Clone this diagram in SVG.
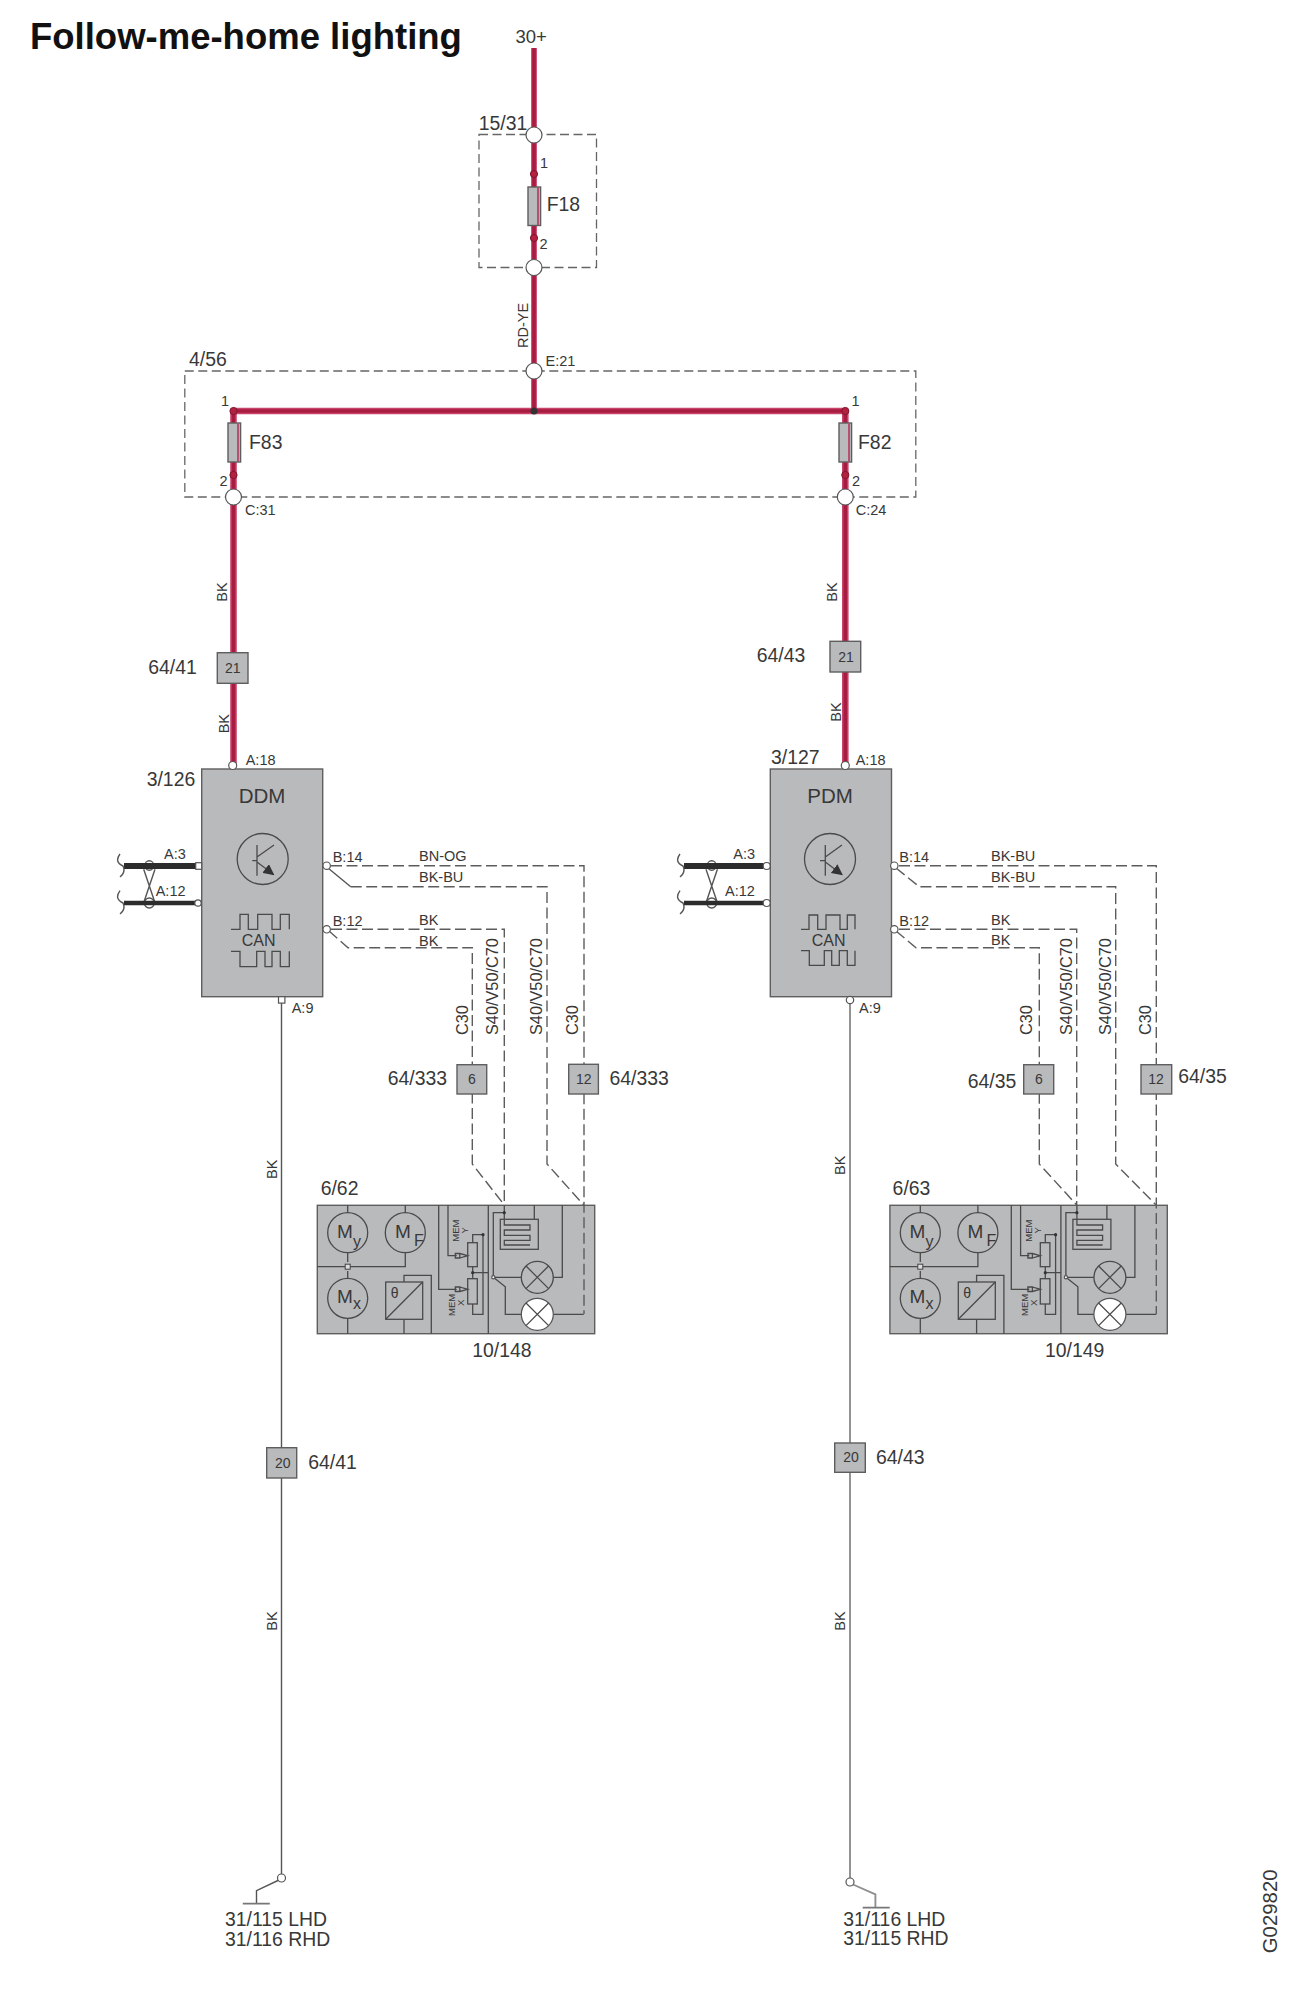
<svg xmlns="http://www.w3.org/2000/svg" width="1315" height="2000" viewBox="0 0 1315 2000">
<style>
text{font-family:"Liberation Sans",Arial,sans-serif;fill:#383838;font-size:19.4px}
.sm{font-size:14.5px}
.num{font-size:14px;text-anchor:middle}
.title{font-size:36.5px;font-weight:bold;fill:#111}
.tiny{font-size:9.5px}
.rot{font-size:16.3px}
.mm{font-size:19px}
.sb{font-size:16px}
.wo{fill:none;stroke:#c9446a;stroke-width:6.6}
.wi{fill:none;stroke:#a91c42;stroke-width:3.6}
.dash{fill:none;stroke:#5c5c5c;stroke-width:1.4;stroke-dasharray:11 4.5}
.thin{fill:none;stroke:#555;stroke-width:1.4}
.frame{fill:none;stroke:#666;stroke-width:1.3;stroke-dasharray:9 4.5}
.box{fill:#b9babc;stroke:#5e5e5e;stroke-width:1.4}
.ln{fill:none;stroke:#4a4a4a;stroke-width:1.3}
.pin{fill:#fff;stroke:#555;stroke-width:1.2}
.dot{fill:#b5203f;stroke:#7a1830;stroke-width:1}
.bus{stroke:#2c2c2c;fill:none}
.kn{fill:#333;stroke:none}
</style>
<defs>
<marker id="emitter" viewBox="0 0 10 10" refX="9" refY="5" markerWidth="11" markerHeight="11" markerUnits="userSpaceOnUse" orient="auto"><path d="M0,0 L10,5 L0,10 Z" fill="#333"/></marker>
</defs>

<text class="title" x="30" y="48.5">Follow-me-home lighting</text>
<text x="515.5" y="42.7" style="font-size:18.5px">30+</text>
<text x="1277.3" y="1953.3" transform="rotate(-90 1277.3 1953.3)" style="font-size:20.4px">G029820</text>

<g id="m6-62">
<rect class="box" x="317.3" y="1205.3" width="277.4" height="128.4"/>
<path class="ln" d="M347.7,1205.3V1212.7M405.3,1205.3V1212.7M405.3,1252.7V1266.7H317.3M347.7,1252.7V1262M347.7,1271V1278.3M347.7,1318.3V1333.7"/>
<circle class="ln" cx="347.7" cy="1232.7" r="20"/><circle class="ln" cx="405.3" cy="1232.7" r="20"/><circle class="ln" cx="347.7" cy="1298.3" r="20"/>
<rect x="345.2" y="1264.2" width="5" height="5" fill="#ddd" stroke="#444"/>
<text class="mm" x="337" y="1238.3">M</text><text class="sb" x="353" y="1246.7">y</text>
<text class="mm" x="395" y="1238.3">M</text><text class="sb" x="414" y="1245.5">F</text>
<text class="mm" x="337" y="1303.3">M</text><text class="sb" x="353" y="1309.3">x</text>
<rect class="ln" x="385.7" y="1282" width="37" height="37.3"/><path class="ln" d="M385.7,1319.3L422.7,1282M404,1319.3V1333.7M404,1282V1275.3H431.3V1333.7"/>
<text x="390.7" y="1298.3" style="font-size:14px">θ</text>
<path class="ln" d="M438.7,1205.3V1289.3H456.7M448,1205.3V1255.7H456.7"/>
<path class="ln" d="M455.3,1253.5h4.5v4.5h-4.5zM459.8,1253.5L467.7,1255.7L459.8,1258M455.3,1287h4.5v4.5h-4.5zM459.8,1287L467.7,1289.3L459.8,1291.5"/>
<rect class="ln" x="467.7" y="1242.7" width="9.6" height="24"/><rect class="ln" x="467.7" y="1278.7" width="9.6" height="25.3"/>
<path class="ln" d="M472.7,1242.7V1234.7H483V1314.3H472.7V1304M472.7,1266.7V1278.7M472.7,1272.7H488.3V1333.7M488.3,1205.3V1333.7"/>
<circle class="kn" cx="483" cy="1234.7" r="1.6"/><circle class="kn" cx="472.7" cy="1272.7" r="1.6"/>
<text class="tiny" x="459.3" y="1241.7" transform="rotate(-90 459.3 1241.7)">MEM</text><text class="tiny" x="468.3" y="1233.5" transform="rotate(-90 468.3 1233.5)">Y</text>
<text class="tiny" x="455" y="1316" transform="rotate(-90 455 1316)">MEM</text><text class="tiny" x="464" y="1306" transform="rotate(-90 464 1306)">X</text>
<path class="ln" d="M504.3,1212.7H493.3V1277.3H521.3M493.3,1277.3L505.3,1286.7V1314.3H521.3M504.3,1205.3V1225H530V1230H504.3V1235.3H530V1240.3H504.3V1245H530M534.3,1205.3V1219.3M553.3,1277.3H562.3V1205.3M553.3,1314.3H583.7"/>
<rect class="ln" x="500.3" y="1219.3" width="38" height="30"/>
<circle class="kn" cx="504.3" cy="1212.7" r="1.6"/><circle class="pin" cx="493.3" cy="1277.3" r="1.6"/>
<circle class="ln" cx="537.3" cy="1277.3" r="16"/><path class="ln" d="M526,1266L548.6,1288.6M548.6,1266L526,1288.6"/>
<circle class="pin" cx="537.3" cy="1314.3" r="16"/><path class="ln" d="M526,1303L548.6,1325.6M548.6,1303L526,1325.6"/>
<text x="320.7" y="1195">6/62</text>
<text x="472.3" y="1357.3">10/148</text>
</g>
<g id="m6-63" transform="translate(572.6 0)">
<rect class="box" x="317.3" y="1205.3" width="277.4" height="128.4"/>
<path class="ln" d="M347.7,1205.3V1212.7M405.3,1205.3V1212.7M405.3,1252.7V1266.7H317.3M347.7,1252.7V1262M347.7,1271V1278.3M347.7,1318.3V1333.7"/>
<circle class="ln" cx="347.7" cy="1232.7" r="20"/><circle class="ln" cx="405.3" cy="1232.7" r="20"/><circle class="ln" cx="347.7" cy="1298.3" r="20"/>
<rect x="345.2" y="1264.2" width="5" height="5" fill="#ddd" stroke="#444"/>
<text class="mm" x="337" y="1238.3">M</text><text class="sb" x="353" y="1246.7">y</text>
<text class="mm" x="395" y="1238.3">M</text><text class="sb" x="414" y="1245.5">F</text>
<text class="mm" x="337" y="1303.3">M</text><text class="sb" x="353" y="1309.3">x</text>
<rect class="ln" x="385.7" y="1282" width="37" height="37.3"/><path class="ln" d="M385.7,1319.3L422.7,1282M404,1319.3V1333.7M404,1282V1275.3H431.3V1333.7"/>
<text x="390.7" y="1298.3" style="font-size:14px">θ</text>
<path class="ln" d="M438.7,1205.3V1289.3H456.7M448,1205.3V1255.7H456.7"/>
<path class="ln" d="M455.3,1253.5h4.5v4.5h-4.5zM459.8,1253.5L467.7,1255.7L459.8,1258M455.3,1287h4.5v4.5h-4.5zM459.8,1287L467.7,1289.3L459.8,1291.5"/>
<rect class="ln" x="467.7" y="1242.7" width="9.6" height="24"/><rect class="ln" x="467.7" y="1278.7" width="9.6" height="25.3"/>
<path class="ln" d="M472.7,1242.7V1234.7H483V1314.3H472.7V1304M472.7,1266.7V1278.7M472.7,1272.7H488.3V1333.7M488.3,1205.3V1333.7"/>
<circle class="kn" cx="483" cy="1234.7" r="1.6"/><circle class="kn" cx="472.7" cy="1272.7" r="1.6"/>
<text class="tiny" x="459.3" y="1241.7" transform="rotate(-90 459.3 1241.7)">MEM</text><text class="tiny" x="468.3" y="1233.5" transform="rotate(-90 468.3 1233.5)">Y</text>
<text class="tiny" x="455" y="1316" transform="rotate(-90 455 1316)">MEM</text><text class="tiny" x="464" y="1306" transform="rotate(-90 464 1306)">X</text>
<path class="ln" d="M504.3,1212.7H493.3V1277.3H521.3M493.3,1277.3L505.3,1286.7V1314.3H521.3M504.3,1205.3V1225H530V1230H504.3V1235.3H530V1240.3H504.3V1245H530M534.3,1205.3V1219.3M553.3,1277.3H562.3V1205.3M553.3,1314.3H583.7"/>
<rect class="ln" x="500.3" y="1219.3" width="38" height="30"/>
<circle class="kn" cx="504.3" cy="1212.7" r="1.6"/><circle class="pin" cx="493.3" cy="1277.3" r="1.6"/>
<circle class="ln" cx="537.3" cy="1277.3" r="16"/><path class="ln" d="M526,1266L548.6,1288.6M548.6,1266L526,1288.6"/>
<circle class="pin" cx="537.3" cy="1314.3" r="16"/><path class="ln" d="M526,1303L548.6,1325.6M548.6,1303L526,1325.6"/>
<text x="320" y="1195">6/63</text>
<text x="472.4" y="1356.7">10/149</text>
</g>

<g id="connectors">
<path class="wo" d="M233.5,411H845.3M233.5,411V765M845.3,411V765"/>
<path class="wo" style="stroke-width:5.8" d="M534,48V411"/>
<path class="wi" d="M534,48V411M233.5,411H845.3M233.5,411V765M845.3,411V765"/>
<path class="thin" d="M281.5,1003V1878M279,1880L256.5,1890.7V1903.7"/>
<path fill="none" stroke="#8f8f8f" stroke-width="1.9" d="M850,1004V1878M853,1884.5L875.4,1894.3V1907.7"/>
<path stroke="#777" stroke-width="1.8" d="M242.8,1903.7H269.8M862.7,1907.7H889.7"/>
<path class="dash" d="M331,865.7H584V1314"/>
<path class="thin" d="M328,868L350.7,886.7"/><path class="dash" d="M350.7,886.7H547V1164L583.7,1205"/>
<path class="dash" d="M331,929.3H504.3V1205"/>
<path class="dash" d="M329,931L348,947.7H472.3V1164L504.3,1205"/>
<path class="dash" d="M899,865.7H1156.3V1314"/>
<path class="dash" d="M896,868L919.3,886.7H1115.7V1164L1156,1205"/>
<path class="dash" d="M899,929.3H1076.7V1205"/>
<path class="dash" d="M896,931L916,947.7H1039.3V1164L1076.7,1205"/>
<ellipse class="thin" cx="149.3" cy="865.5" rx="4.5" ry="4.7"/><ellipse class="thin" cx="149.3" cy="903" rx="5" ry="5"/>
<path class="thin" d="M143.7,869.3L155,902.7M155,869.3L143.7,902.7"/>
<ellipse class="thin" cx="711.7" cy="865.5" rx="4.5" ry="4.7"/><ellipse class="thin" cx="711.7" cy="903" rx="5" ry="5"/>
<path class="thin" d="M706,869.3L717.4,902.7M717.4,869.3L706,902.7"/>
<path class="bus" stroke-width="6" d="M124,866H196M684,866H763.5"/>
<path class="bus" stroke-width="4.5" d="M124,903H196M684,903H763.5"/>
<path class="thin" d="M120,854Q114,862 123,866Q126,872 120,877M120,890.7Q114,899 123,903Q126,909 120,914M680,854Q674,862 683,866Q686,872 680,877M680,890.7Q674,899 683,903Q686,909 680,914"/>
<text class="sm" x="528" y="348" transform="rotate(-90 528 348)">RD-YE</text>
<text class="sm" x="226.7" y="601.7" transform="rotate(-90 226.7 601.7)">BK</text>
<text class="sm" x="229" y="733.3" transform="rotate(-90 229 733.3)">BK</text>
<text class="sm" x="836.7" y="601.7" transform="rotate(-90 836.7 601.7)">BK</text>
<text class="sm" x="840.7" y="721.7" transform="rotate(-90 840.7 721.7)">BK</text>
<text class="sm" x="277" y="1179" transform="rotate(-90 277 1179)">BK</text>
<text class="sm" x="277.3" y="1630.7" transform="rotate(-90 277.3 1630.7)">BK</text>
<text class="sm" x="845" y="1175" transform="rotate(-90 845 1175)">BK</text>
<text class="sm" x="845" y="1630.7" transform="rotate(-90 845 1630.7)">BK</text>
<text class="sm" x="419" y="861">BN-OG</text><text class="sm" x="419" y="881.7">BK-BU</text><text class="sm" x="419" y="925">BK</text><text class="sm" x="419" y="945.7">BK</text>
<text class="sm" x="991" y="861">BK-BU</text><text class="sm" x="991" y="881.7">BK-BU</text><text class="sm" x="991" y="925">BK</text><text class="sm" x="991" y="945">BK</text>
<text class="rot" x="467.7" y="1035" transform="rotate(-90 467.7 1035)">C30</text>
<text class="rot" x="498.3" y="1035" transform="rotate(-90 498.3 1035)">S40/V50/C70</text>
<text class="rot" x="541.7" y="1035" transform="rotate(-90 541.7 1035)">S40/V50/C70</text>
<text class="rot" x="578.3" y="1035" transform="rotate(-90 578.3 1035)">C30</text>
<text class="rot" x="1031.7" y="1035" transform="rotate(-90 1031.7 1035)">C30</text>
<text class="rot" x="1071.7" y="1035" transform="rotate(-90 1071.7 1035)">S40/V50/C70</text>
<text class="rot" x="1110.7" y="1035" transform="rotate(-90 1110.7 1035)">S40/V50/C70</text>
<text class="rot" x="1150.7" y="1035" transform="rotate(-90 1150.7 1035)">C30</text>
</g>

<g id="f15-31">
<rect class="frame" x="479" y="134.5" width="117.5" height="133"/>
<circle class="pin" cx="534" cy="135" r="8"/><circle class="pin" cx="534" cy="267.5" r="8"/>
<circle class="dot" cx="534" cy="174" r="3.6"/><circle class="dot" cx="534" cy="238" r="3.6"/>
<rect class="box" x="528" y="187" width="12.6" height="38.5"/><path d="M538,187.5V225" stroke="#b5385c" stroke-width="1.6"/>
<text x="478.8" y="130">15/31</text><text class="sm" x="540" y="168">1</text><text class="sm" x="539.4" y="249">2</text><text x="546.7" y="211">F18</text>
</g>
<g id="f4-56">
<rect class="frame" x="184.8" y="371" width="731" height="126"/>
<circle class="pin" cx="534" cy="371" r="8"/><circle class="pin" cx="233.5" cy="497" r="8"/><circle class="pin" cx="845.3" cy="497" r="8"/>
<circle class="kn" cx="534" cy="411" r="3.5"/>
<circle class="dot" cx="233.5" cy="411" r="3.6"/><circle class="dot" cx="845.3" cy="411" r="3.6"/>
<circle class="dot" cx="233.5" cy="475" r="3.6"/><circle class="dot" cx="845.3" cy="475" r="3.6"/>
<rect class="box" x="228" y="423" width="12.6" height="39"/><rect class="box" x="839" y="423" width="12.6" height="39"/>
<path d="M238,423.5V461.5M849,423.5V461.5" stroke="#b5385c" stroke-width="1.6"/>
<text x="189" y="366">4/56</text><text class="sm" x="545.5" y="366">E:21</text>
<text class="sm" x="221" y="406">1</text><text class="sm" x="851.5" y="406">1</text>
<text class="sm" x="219.4" y="486">2</text><text class="sm" x="852" y="486">2</text>
<text x="249" y="449">F83</text><text x="858" y="449">F82</text>
<text class="sm" x="245" y="515">C:31</text><text class="sm" x="855.7" y="515">C:24</text>
</g>
<g id="c64-41a"><rect class="box" x="217.3" y="652.7" width="30.7" height="30.6"/><text class="num" x="232.7" y="673.3">21</text><text x="148.3" y="674">64/41</text></g>
<g id="c64-43a"><rect class="box" x="830" y="641.3" width="30.7" height="30.7"/><text class="num" x="846" y="662">21</text><text x="756.7" y="661.7">64/43</text></g>

<g id="ddm">
<rect class="box" x="201.7" y="769" width="121" height="227.7"/>
<circle class="pin" cx="232.7" cy="765.5" r="4"/>
<text class="sm" x="245.7" y="765">A:18</text><text x="146.7" y="785.7">3/126</text>
<text x="262" y="803" text-anchor="middle" style="font-size:20.5px">DDM</text>
<circle class="ln" cx="262.7" cy="859" r="25.5"/>
<path class="ln" d="M257,845V875.7M252.3,860.7H257M257,857L274,845"/><path class="ln" d="M257,862L273.5,874.5" marker-end="url(#emitter)"/>
<path class="ln" d="M231,929.3H240V914.3H248.3V929.3H257.7V914.3H272V929.3H280.3V914.3H289.3V929.3"/>
<path class="ln" d="M231,951.3H240V966.7H256.7V951.3H265V966.7H272V951.3H280.3V966.7H289.3V951.3"/>
<text x="241.7" y="946" style="font-size:16px">CAN</text>
<rect class="pin" x="195.7" y="862.7" width="6" height="6.6"/><circle class="pin" cx="198" cy="903" r="3.2"/>
<rect class="pin" x="278.5" y="996.7" width="6.4" height="6.4"/>
<circle class="pin" cx="326.7" cy="865.7" r="3.7"/><circle class="pin" cx="326.7" cy="929.3" r="3.7"/>
<text class="sm" x="164" y="859">A:3</text><text class="sm" x="155.7" y="896">A:12</text>
<text class="sm" x="291.7" y="1012.7">A:9</text>
<text class="sm" x="332.7" y="861.7">B:14</text><text class="sm" x="332.7" y="925.7">B:12</text>
</g>
<g id="pdm">
<rect class="box" x="770.3" y="769" width="121.2" height="227.7"/>
<circle class="pin" cx="845.3" cy="765.5" r="4"/>
<text class="sm" x="855.7" y="765">A:18</text><text x="771" y="764">3/127</text>
<text x="830" y="803" text-anchor="middle" style="font-size:20.5px">PDM</text>
<circle class="ln" cx="830" cy="859" r="25.5"/>
<path class="ln" d="M825.3,845V875.7M820,860.7H825.3M825.3,857L842,845"/><path class="ln" d="M825.3,862L842,874.5" marker-end="url(#emitter)"/>
<path class="ln" d="M801,929.3H809V915H817.7V929.3H826V915H840V929.3H847.3V915H855V929.3"/>
<path class="ln" d="M801,950.7H809.3V965.3H824.3V950.7H831.7V965.3H839.3V950.7H847.3V965.3H855V950.7"/>
<text x="811.7" y="945.7" style="font-size:16px">CAN</text>
<circle class="pin" cx="766.7" cy="866" r="3.5"/><circle class="pin" cx="766.7" cy="903" r="3.5"/>
<circle class="pin" cx="850" cy="1000" r="3.7"/>
<circle class="pin" cx="894.3" cy="865.7" r="3.7"/><circle class="pin" cx="894.3" cy="929.3" r="3.7"/>
<text class="sm" x="733.3" y="859">A:3</text><text class="sm" x="725" y="896">A:12</text>
<text class="sm" x="859" y="1012.7">A:9</text>
<text class="sm" x="899.3" y="861.7">B:14</text><text class="sm" x="899.3" y="925.7">B:12</text>
</g>
<g id="c64-333a"><rect class="box" x="457" y="1064.7" width="29.7" height="29.3"/><text class="num" x="472" y="1084">6</text><text x="387.7" y="1085">64/333</text></g>
<g id="c64-333b"><rect class="box" x="568.7" y="1064.3" width="29.7" height="29.7"/><text class="num" x="583.7" y="1084">12</text><text x="609.5" y="1085">64/333</text></g>
<g id="c64-35a"><rect class="box" x="1023.7" y="1064.7" width="30" height="29.3"/><text class="num" x="1039" y="1084">6</text><text x="967.7" y="1088.3">64/35</text></g>
<g id="c64-35b"><rect class="box" x="1141" y="1064.7" width="30.7" height="29.3"/><text class="num" x="1156" y="1084">12</text><text x="1178.3" y="1083.3">64/35</text></g>
<g id="c64-41b"><rect class="box" x="266.7" y="1447.7" width="30" height="30.3"/><text class="num" x="282.7" y="1468.3">20</text><text x="308.3" y="1469">64/41</text></g>
<g id="c64-43b"><rect class="box" x="834.7" y="1443" width="30.6" height="29.3"/><text class="num" x="851" y="1462.3">20</text><text x="876" y="1464">64/43</text></g>
<g id="g31a"><circle class="pin" cx="281.5" cy="1878" r="4"/><text x="225" y="1925.7">31/115 LHD</text><text x="225" y="1946">31/116 RHD</text></g>
<g id="g31b"><circle class="pin" cx="850" cy="1882" r="4"/><text x="843.3" y="1925.7">31/116 LHD</text><text x="843.3" y="1945.3">31/115 RHD</text></g>
</svg>
